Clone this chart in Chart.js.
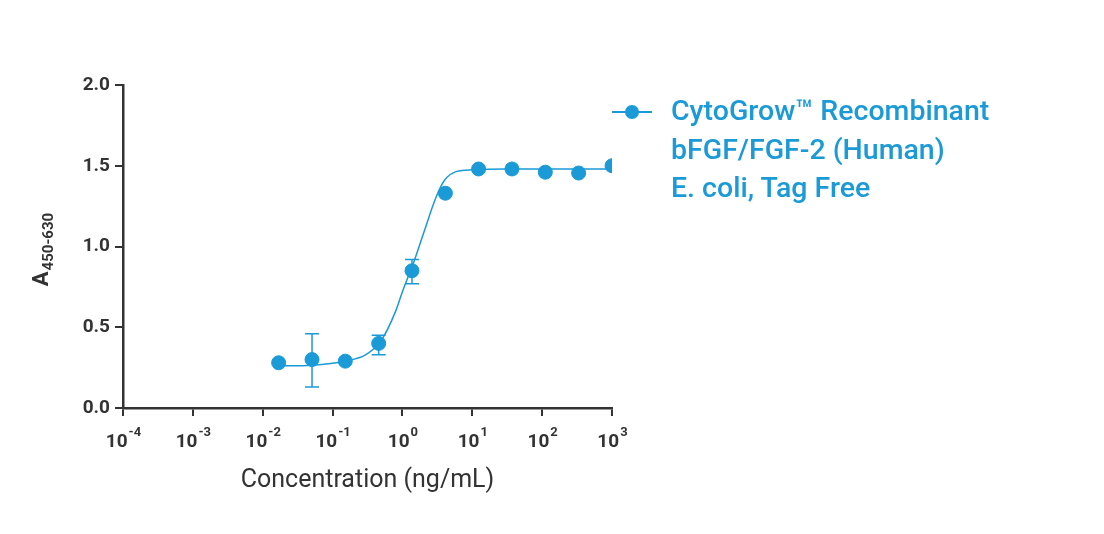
<!DOCTYPE html>
<html>
<head>
<meta charset="utf-8">
<script src="https://cdn.jsdelivr.net/npm/chart.js@4.4.1/dist/chart.umd.min.js"></script>
<style>
  body { margin: 0; background: #fff; font-family: Roboto, sans-serif; }
  #wrap { position: relative; width: 1104px; height: 534px; }
  #legend { position: absolute; left: 612px; top: 92px; color: #1a9ad6; font: 500 28.5px Roboto, sans-serif; line-height: 38.5px; }
  #legend .mk { position: absolute; left: 0; top: 19px; width: 40px; height: 2px; background: #1a9ad6; }
  #legend .mk::after { content: ''; position: absolute; left: 13px; top: -6px; width: 14px; height: 14px; border-radius: 50%; background: #1a9ad6; }
  #legend .tx { margin-left: 59px; }
</style>
</head>
<body>
<div id="wrap">
  <canvas id="c" width="1104" height="534"></canvas>
  <div id="legend"><div class="mk"></div><div class="tx">CytoGrow™ Recombinant<br>bFGF/FGF-2 (Human)<br>E. coli, Tag Free</div></div>
</div>
<script>
const conc = [0.0169, 0.0508, 0.152, 0.457, 1.37, 4.12, 12.3, 37.0, 111, 333, 1000];
const absorb = [0.28, 0.30, 0.29, 0.40, 0.85, 1.33, 1.48, 1.48, 1.46, 1.455, 1.50];
const errLow = [null, 0.13, null, 0.33, 0.77, null, null, null, null, null, null];
const errHigh = [null, 0.46, null, 0.45, 0.92, null, null, null, null, null, null];
const fitX = [0.0165, 0.05, 0.15, 0.3, 0.5, 0.8, 1.0, 1.5, 2, 3, 4, 6, 10, 30, 1000];
const fitY = [0.26, 0.265, 0.29, 0.33, 0.42, 0.6, 0.72, 0.92, 1.08, 1.3, 1.41, 1.465, 1.475, 1.48, 1.48];
const powers = [-4, -3, -2, -1, 0, 1, 2, 3];
const yTicks = [0, 0.5, 1.0, 1.5, 2.0];

const blue = '#1a9ad6', dark = '#333333';

const extras = {
  id: 'extras',
  afterDatasetsDraw(chart) {
    const ctx = chart.ctx, xs = chart.scales.x, ys = chart.scales.y;
    ctx.save();
    ctx.strokeStyle = blue; ctx.lineWidth = 1.5;
    conc.forEach((c, i) => {
      if (errLow[i] == null) return;
      const x = xs.getPixelForValue(c), y1 = ys.getPixelForValue(errLow[i]), y2 = ys.getPixelForValue(errHigh[i]);
      ctx.beginPath();
      ctx.moveTo(x, y1); ctx.lineTo(x, y2);
      ctx.moveTo(x - 7, y1); ctx.lineTo(x + 7, y1);
      ctx.moveTo(x - 7, y2); ctx.lineTo(x + 7, y2);
      ctx.stroke();
    });
    // x tick labels 10^n
    ctx.fillStyle = dark;
    ctx.textBaseline = 'alphabetic';
    powers.forEach(p => {
      const x = xs.getPixelForValue(Math.pow(10, p));
      ctx.font = 'bold 19px Roboto';
      const w1 = ctx.measureText('10').width;
      ctx.font = 'bold 13px Roboto';
      const w2 = ctx.measureText(String(p)).width;
      const left = x - (w1 + w2) / 2;
      ctx.font = 'bold 19px Roboto';
      ctx.textAlign = 'left';
      ctx.fillText('10', left, 447);
      ctx.font = 'bold 13px Roboto';
      ctx.fillText(String(p), left + w1 + 1, 436);
    });
    // y title
    ctx.translate(48, 250);
    ctx.rotate(-Math.PI / 2);
    ctx.font = 'bold 22px Roboto';
    ctx.textAlign = 'left';
    const wa = ctx.measureText('A').width;
    ctx.font = 'bold 15px Roboto';
    const ws = ctx.measureText('450-630').width;
    const st = -(wa + ws) / 2;
    ctx.font = 'bold 22px Roboto';
    ctx.fillText('A', st, 0);
    ctx.font = 'bold 15px Roboto';
    ctx.fillText('450-630', st + wa + 1, 5);
    ctx.restore();
  }
};

new Chart(document.getElementById('c'), {
  type: 'scatter',
  data: {
    datasets: [
      { data: conc.map((c, i) => ({ x: c, y: absorb[i] })), backgroundColor: blue, borderColor: blue, pointRadius: 7, pointHoverRadius: 7, order: 0 },
      { type: 'line', data: fitX.map((c, i) => ({ x: c, y: fitY[i] })), borderColor: blue, borderWidth: 1.5, pointRadius: 0, cubicInterpolationMode: 'monotone', fill: false, order: 1 }
    ]
  },
  plugins: [extras],
  options: {
    responsive: false, animation: false,
    layout: { padding: { left: 0, top: 85, right: 492, bottom: 38 } },
    plugins: { legend: { display: false }, tooltip: { enabled: false } },
    scales: {
      x: {
        type: 'logarithmic', min: 1e-4, max: 1e3,
        afterBuildTicks: s => { s.ticks = powers.map(p => ({ value: Math.pow(10, p) })); },
        afterFit: s => { s.height = 534 - 38 - 408; },
        border: { color: dark, width: 2.5 },
        grid: { drawOnChartArea: false, tickLength: 8, color: dark, lineWidth: 2 },
        ticks: { callback: () => '', font: { size: 18 } },
        title: { display: true, text: 'Concentration (ng/mL)', color: dark, font: { family: 'Roboto', size: 25 }, padding: { top: 0, bottom: 0 } }
      },
      y: {
        min: 0, max: 2,
        afterBuildTicks: s => { s.ticks = yTicks.map(v => ({ value: v })); },
        afterFit: s => { s.width = 123; },
        border: { color: dark, width: 2.5 },
        grid: { drawOnChartArea: false, tickLength: 8, color: dark, lineWidth: 2 },
        ticks: { color: dark, padding: 5, font: { family: 'Roboto', size: 19, weight: 'bold' }, callback: v => v.toFixed(1) }
      }
    }
  }
});
</script>
</body>
</html>
